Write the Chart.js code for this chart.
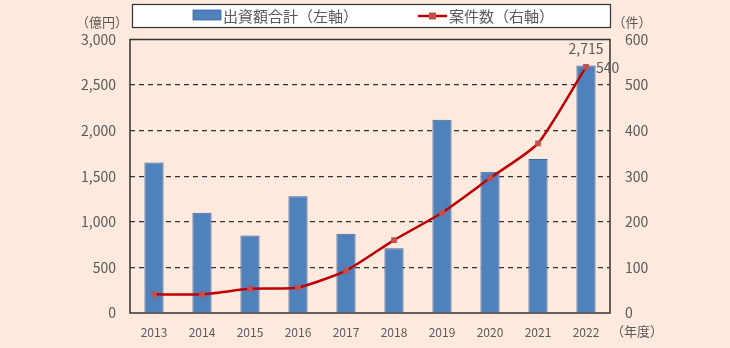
<!DOCTYPE html>
<html lang="ja">
<head>
<meta charset="utf-8">
<script src="https://cdn.jsdelivr.net/npm/chart.js@4"></script>
<style>
  html, body { margin: 0; padding: 0; background: #FDE9DD; }
  #wrap { width: 730px; height: 348px; position: relative; }
</style>
</head>
<body>
<div id="wrap"><canvas id="c" width="730" height="348"></canvas></div>
<script>
// 年度
const years = ['2013', '2014', '2015', '2016', '2017', '2018', '2019', '2020', '2021', '2022'];
// 出資額合計（億円, 左軸）
const investment = [1650, 1100, 850, 1280, 870, 710, 2120, 1550, 1690, 2715];
// 案件数（件, 右軸）
const deals = [41, 41, 53, 56, 93, 160, 220, 296, 372, 540];
// 軸の目盛
const leftTicks = [0, 500, 1000, 1500, 2000, 2500, 3000];
const rightTicks = [0, 100, 200, 300, 400, 500, 600];

const seriesNames = ['出資額合計（左軸）', '案件数（右軸）'];
const FONT = '"Noto Sans CJK JP", "Noto Sans", sans-serif';
const TEXT = '#595959';
const BAR = '#4F81BD';
const LINE = '#C00000';
const MARK = '#C0504D';

const fmt = v => v.toLocaleString('en-US');

// 凡例の枠・軸単位・データラベル・外枠
const decor = {
  id: 'decor',
  beforeDraw(chart) {
    const { ctx } = chart;
    ctx.save();
    ctx.fillStyle = '#FDE9DD';
    ctx.fillRect(0, 0, chart.width, chart.height);
    ctx.restore();
  },
  afterDraw(chart) {
    const { ctx, chartArea: a } = chart;
    ctx.save();
    // プロット外枠
    ctx.strokeStyle = '#333333';
    ctx.lineWidth = 1.5;
    ctx.strokeRect(a.left, a.top, a.right - a.left, a.bottom - a.top);

    // 凡例
    ctx.fillStyle = '#FFFFFF';
    ctx.fillRect(132.5, 4.5, 478, 23);
    ctx.strokeStyle = '#333333';
    ctx.lineWidth = 1.2;
    ctx.strokeRect(132.5, 4.5, 478, 23);
    ctx.fillStyle = BAR;
    ctx.fillRect(193, 10, 28, 10);
    ctx.strokeStyle = '#3A67A0';
    ctx.lineWidth = 0.8;
    ctx.strokeRect(193, 10, 28, 10);
    ctx.strokeStyle = LINE;
    ctx.lineWidth = 2.5;
    ctx.beginPath(); ctx.moveTo(418, 16); ctx.lineTo(447, 16); ctx.stroke();
    ctx.fillStyle = MARK;
    ctx.fillRect(429, 12.5, 7, 7);
    ctx.font = '15px ' + FONT;
    ctx.fillStyle = TEXT;
    ctx.textBaseline = 'middle';
    ctx.textAlign = 'left';
    ctx.fillText(seriesNames[0], 223, 16);
    ctx.fillText(seriesNames[1], 449, 16);

    // 軸単位
    ctx.font = '13px ' + FONT;
    ctx.textAlign = 'center';
    ctx.fillText('（億円）', 102, 22);
    ctx.fillText('（件）', 632, 22);
    ctx.fillText('（年度）', 637, 331);

    // データラベル（2022年度）
    const last = years.length - 1;
    const barEl = chart.getDatasetMeta(0).data[last];
    const ptEl = chart.getDatasetMeta(1).data[last];
    ctx.font = '14px ' + FONT;
    ctx.textAlign = 'center';
    ctx.fillText(fmt(investment[last]), barEl.x, barEl.y - 18);
    ctx.textAlign = 'left';
    ctx.fillText(fmt(deals[last]), ptEl.x + 10, ptEl.y + 2);
    ctx.restore();
  }
};

new Chart(document.getElementById('c'), {
  data: {
    labels: years,
    datasets: [
      {
        type: 'line',
        label: seriesNames[1],
        data: deals,
        yAxisID: 'y1',
        borderColor: LINE,
        borderWidth: 2.5,
        pointStyle: 'rect',
        pointRadius: 4,
        pointBackgroundColor: MARK,
        pointBorderColor: MARK,
        pointBorderWidth: 0,
        tension: 0.2,
        order: 0
      },
      {
        type: 'bar',
        label: seriesNames[0],
        data: investment,
        yAxisID: 'y',
        backgroundColor: BAR,
        borderColor: '#3F6A9C',
        borderWidth: 1,
        barPercentage: 0.8,
        categoryPercentage: 0.5,
        order: 1
      }
    ]
  },
  options: {
    responsive: false,
    animation: false,
    devicePixelRatio: 1,
    layout: { padding: { top: 39.5, left: 0, right: 0, bottom: 0 } },
    plugins: { legend: { display: false }, tooltip: { enabled: false } },
    scales: {
      x: {
        offset: true,
        grid: { display: false, drawTicks: false },
        border: { display: false },
        ticks: { color: TEXT, font: { family: FONT, size: 12 }, padding: 12, maxRotation: 0 },
        afterFit(s) { s.height = 35; }
      },
      y: {
        position: 'left',
        min: 0, max: 3000,
        afterBuildTicks(s) { s.ticks = leftTicks.map(v => ({ value: v })); },
        grid: {
          color: ctx => (ctx.tick && (ctx.tick.value === 0 || ctx.tick.value === 3000)) ? 'rgba(0,0,0,0)' : '#333333',
          lineWidth: 1.3,
          drawTicks: false
        },
        border: { display: false, dash: [5, 4] },
        ticks: { color: TEXT, font: { family: FONT, size: 14 }, padding: 14, callback: v => fmt(v) },
        afterFit(s) { s.width = 130; }
      },
      y1: {
        position: 'right',
        min: 0, max: 600,
        afterBuildTicks(s) { s.ticks = rightTicks.map(v => ({ value: v })); },
        grid: { display: false, drawTicks: false },
        border: { display: false },
        ticks: { color: TEXT, font: { family: FONT, size: 14 }, padding: 15 },
        afterFit(s) { s.width = 120; }
      }
    }
  },
  plugins: [decor]
});
</script>
</body>
</html>
